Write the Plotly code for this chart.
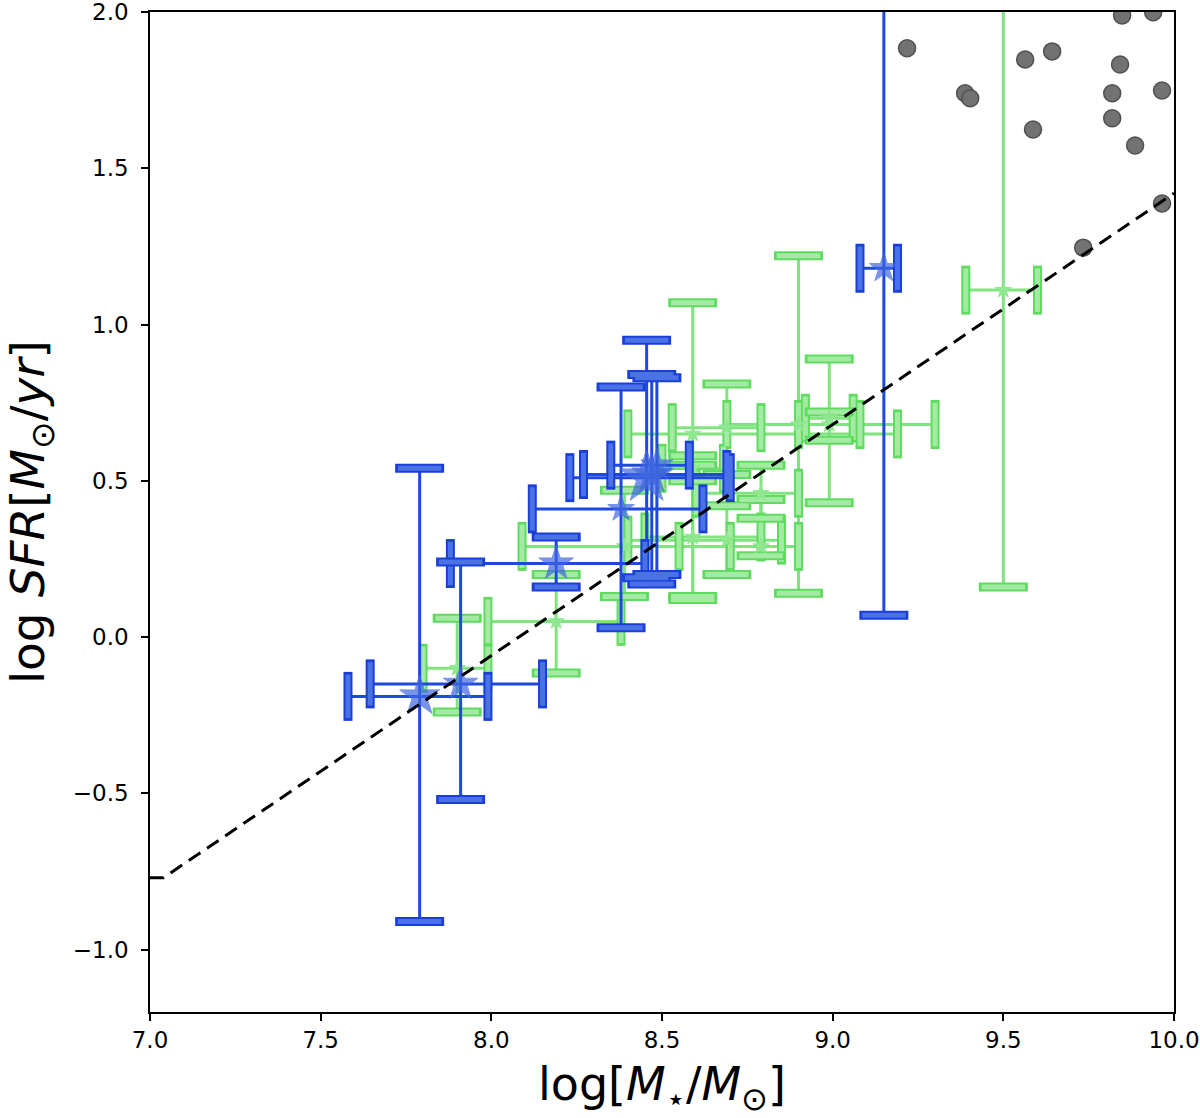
import plotly.graph_objects as go

# blue sample: star markers with asymmetric error bars (bounds)
blue_x = [7.79, 7.91, 8.19, 8.38, 8.455, 8.47, 8.485, 9.15]
blue_y = [-0.19, -0.15, 0.235, 0.41, 0.51, 0.52, 0.55, 1.18]
blue_x_lo = [7.58, 7.645, 7.88, 8.12, 8.23, 8.27, 8.35, 9.08]
blue_x_hi = [7.99, 8.15, 8.45, 8.62, 8.70, 8.69, 8.58, 9.19]
blue_y_lo = [-0.91, -0.52, 0.16, 0.03, 0.19, 0.17, 0.20, 0.07]
blue_y_hi = [0.54, 0.24, 0.32, 0.80, 0.95, 0.84, 0.83, 2.50]

# green sample
green_x = [9.50, 8.59, 8.90, 8.69, 8.99, 8.99, 8.19, 7.90, 8.39, 8.59, 8.69, 8.79, 8.79, 8.59]
green_y = [1.11, 0.65, 0.68, 0.67, 0.68, 0.70, 0.05, -0.10, 0.29, 0.32, 0.31, 0.29, 0.46, 0.54]
green_x_lo = [9.39, 8.40, 8.69, 8.53, 8.90, 8.92, 7.99, 7.80, 8.09, 8.45, 8.40, 8.55, 8.60, 8.50]
green_x_hi = [9.60, 9.19, 9.30, 8.79, 9.08, 9.06, 8.38, 7.99, 8.70, 8.79, 8.85, 8.90, 8.90, 8.68]
green_y_lo = [0.16, 0.13, 0.14, 0.42, 0.63, 0.43, -0.115, -0.24, 0.13, 0.12, 0.20, 0.26, 0.38, 0.50]
green_y_hi = [2.40, 1.07, 1.22, 0.81, 0.72, 0.89, 0.20, 0.06, 0.47, 0.55, 0.52, 0.44, 0.55, 0.58]

# comparison sample (grey dots)
gray_x = [9.218, 9.388, 9.403, 9.564, 9.643, 9.587, 9.848, 9.939, 9.842, 9.819, 9.965, 9.819, 9.886, 9.965, 9.734]
gray_y = [1.884, 1.740, 1.724, 1.848, 1.874, 1.624, 1.989, 1.999, 1.832, 1.740, 1.749, 1.660, 1.573, 1.387, 1.246]

# main sequence relation (dashed)
ms_x = [7.0, 7.04, 10.0]
ms_y = [-0.77, -0.77, 1.42]

# star marker sizes (px)
blue_star_px = [30, 26, 26, 20, 40, 30, 24, 22]
green_star_px = 12

FONT = "DejaVu Sans"


def add_points(fig, x, y, x_lo, x_hi, y_lo, y_hi, line_color, cap_edge, cap_fill,
               star_color, star_size):
    fig.add_trace(go.Scatter(
        x=x, y=y, mode="markers",
        marker=dict(size=1, color=line_color, opacity=0),
        error_x=dict(type="data", symmetric=False,
                     array=[h - v for h, v in zip(x_hi, x)],
                     arrayminus=[v - l for v, l in zip(x, x_lo)],
                     color=line_color, thickness=3, width=0),
        error_y=dict(type="data", symmetric=False,
                     array=[h - v for h, v in zip(y_hi, y)],
                     arrayminus=[v - l for v, l in zip(y, y_lo)],
                     color=line_color, thickness=3, width=0),
        hoverinfo="skip",
    ))
    # caps: vertical ticks at the ends of x errors, horizontal ones at the ends of y errors
    for cx, cy, sym in [(x_lo + x_hi, y + y, "line-ns"), (x + x, y_lo + y_hi, "line-ew")]:
        fig.add_trace(go.Scatter(
            x=cx, y=cy, mode="markers", hoverinfo="skip",
            marker=dict(symbol=sym, size=35, line=dict(width=9, color=cap_edge)),
        ))
        fig.add_trace(go.Scatter(
            x=cx, y=cy, mode="markers", hoverinfo="skip",
            marker=dict(symbol=sym, size=31, line=dict(width=5, color=cap_fill)),
        ))
    fig.add_trace(go.Scatter(
        x=x, y=y, mode="markers",
        marker=dict(symbol="star", size=star_size, color=star_color,
                    line=dict(width=1, color=star_color)),
    ))


fig = go.Figure()

fig.add_trace(go.Scatter(
    x=gray_x, y=gray_y, mode="markers",
    marker=dict(symbol="circle", size=17, color="#727272",
                line=dict(width=1.5, color="#505050")),
))

add_points(fig, green_x, green_y, green_x_lo, green_x_hi, green_y_lo, green_y_hi,
           line_color="#7fe37f", cap_edge="#5fdc5f", cap_fill="#a3eaa3",
           star_color="#8fe88f", star_size=green_star_px)
add_points(fig, blue_x, blue_y, blue_x_lo, blue_x_hi, blue_y_lo, blue_y_hi,
           line_color="#1f48e0", cap_edge="#1a3fd8", cap_fill="#4a72e4",
           star_color="#3f66e0", star_size=blue_star_px)

fig.add_trace(go.Scatter(
    x=ms_x, y=ms_y, mode="lines",
    line=dict(color="black", width=3, dash="14px,8px"),
))

axis_style = dict(
    showline=True, linecolor="black", linewidth=1.5, mirror=True,
    ticks="outside", ticklen=7, tickwidth=1.5, tickcolor="black",
    showgrid=False, zeroline=False, tickformat=".1f", automargin=False,
    ticklabeloverflow="allow",
    tickfont=dict(family=FONT, size=23, color="black"),
)

fig.update_xaxes(
    range=[7.0, 10.0], tickvals=[7.0, 7.5, 8.0, 8.5, 9.0, 9.5, 10.0],
    title=dict(text="log[<i>M</i><sub>⋆</sub>/<i>M</i><sub>⊙</sub>]",
               font=dict(family=FONT, size=46, color="black"), standoff=35),
    **axis_style,
)
fig.update_yaxes(
    range=[-1.2, 2.0], tickvals=[-1.0, -0.5, 0.0, 0.5, 1.0, 1.5, 2.0],
    ticklabelstandoff=8,
    title=dict(text="log <i>SFR</i>[<i>M</i><sub>⊙</sub>/<i>yr</i>]",
               font=dict(family=FONT, size=47, color="black"), standoff=45),
    **axis_style,
)

fig.update_layout(
    width=1200, height=1118,
    margin=dict(l=150, r=26, t=12, b=106),
    plot_bgcolor="white", paper_bgcolor="white",
    showlegend=False,
    font=dict(family=FONT, color="black"),
)

# drop the default page margin so the figure fills the window
fig.write_html("out.html", config={"displayModeBar": False},
               post_script="document.body.style.margin = '0px';")
